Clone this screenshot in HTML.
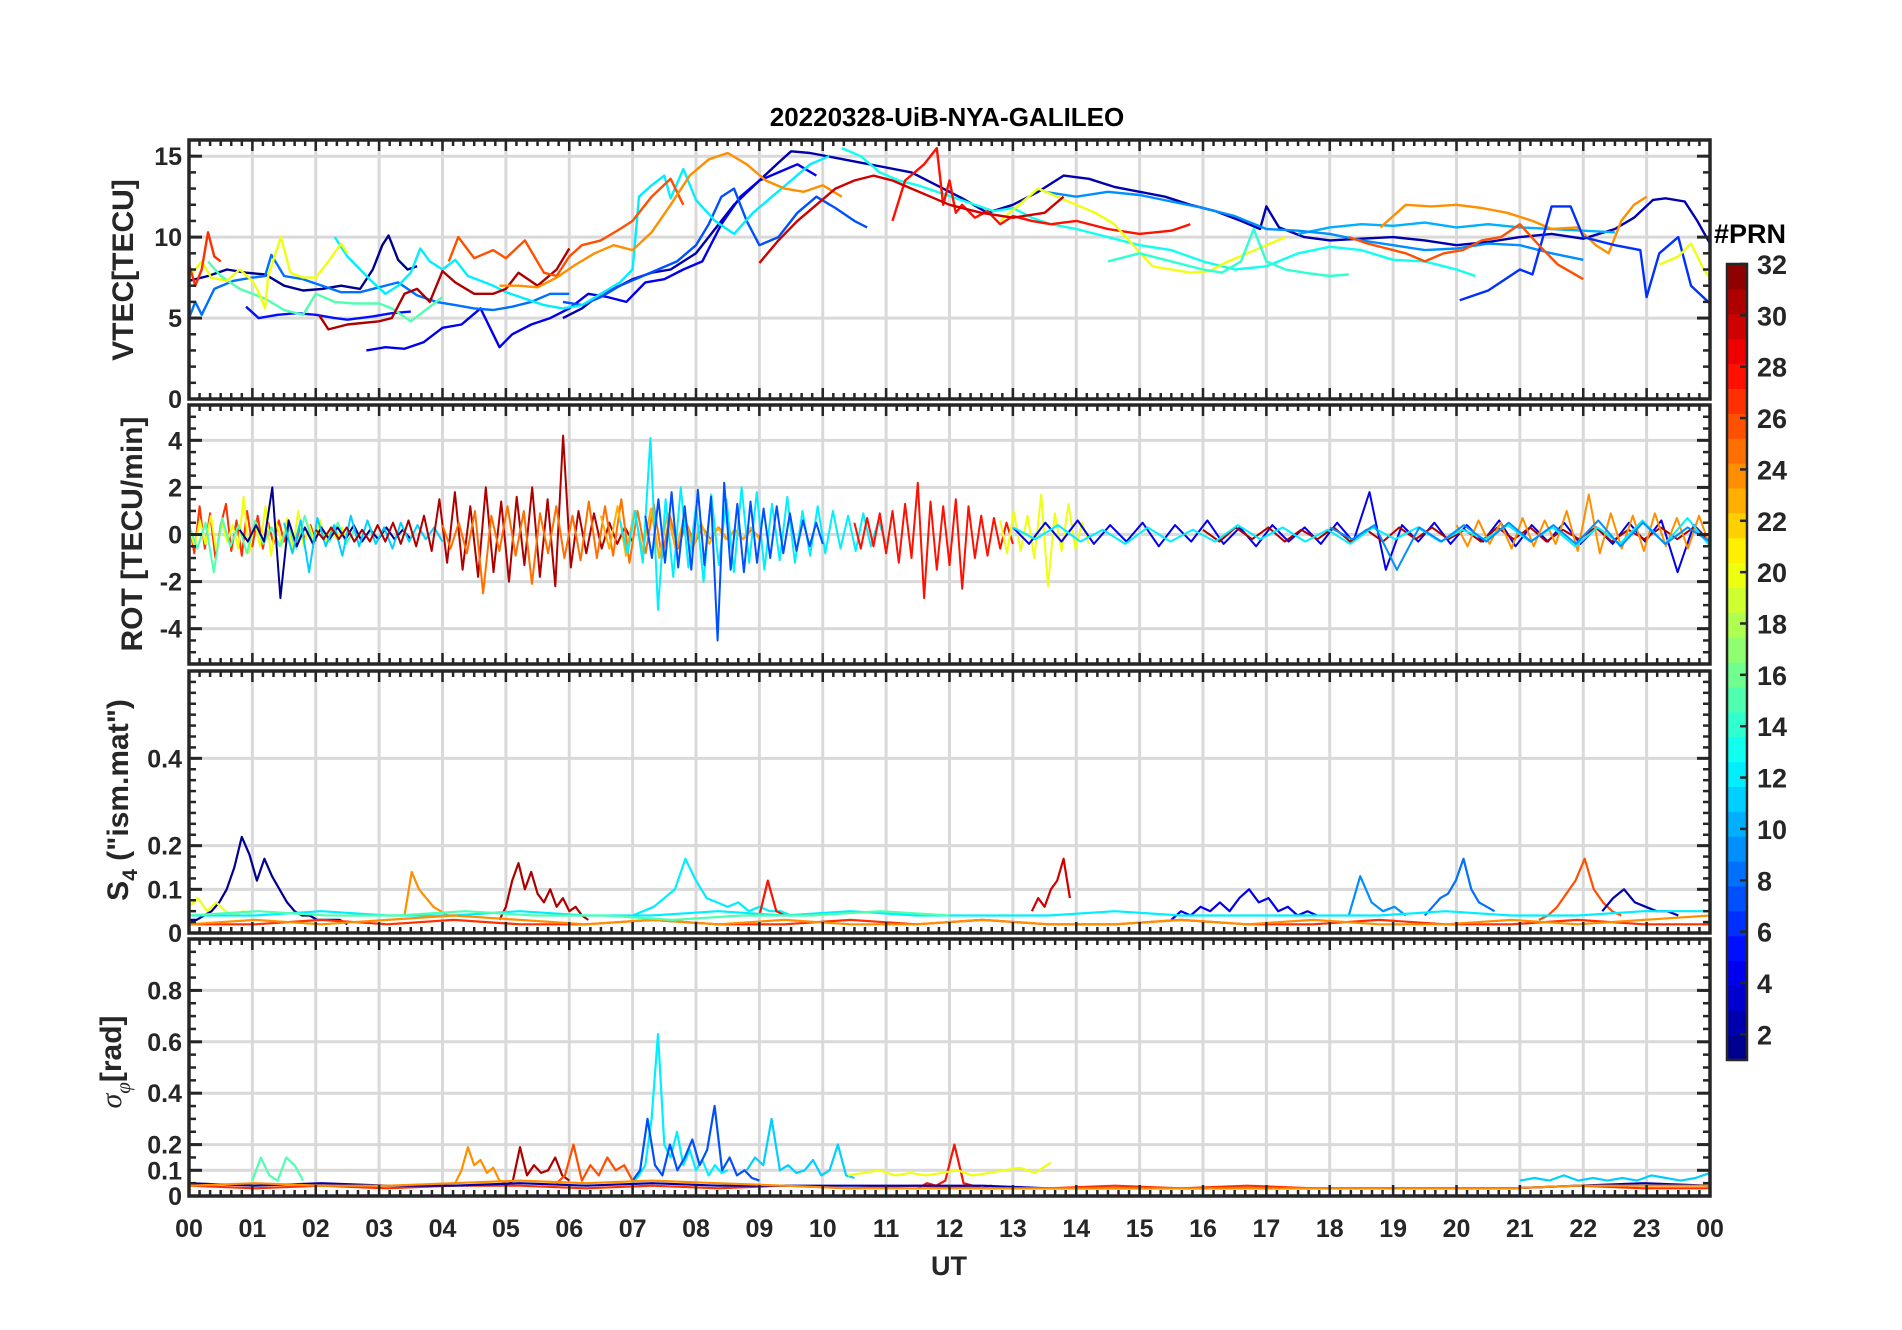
<!DOCTYPE html>
<html><head><meta charset="utf-8">
<style>
html,body{margin:0;padding:0;background:#fff;}
svg{display:block;font-family:"Liberation Sans",Arial,sans-serif;}
</style></head>
<body>
<svg id="fig" width="1902" height="1330" viewBox="0 0 1902 1330" xmlns="http://www.w3.org/2000/svg">
<rect x="0" y="0" width="1902" height="1330" fill="#fff"/>
<text x="947" y="126" font-size="26" font-weight="bold" text-anchor="middle" fill="#000">20220328-UiB-NYA-GALILEO</text>
<g id="grids"></g>
<g id="series"></g>
<g id="frames"></g>
<text x="949" y="1275" font-size="27" font-weight="bold" text-anchor="middle" fill="#262626">UT</text>
<text transform="translate(133,270) rotate(-90)" font-size="30" font-weight="bold" text-anchor="middle" fill="#262626">VTEC[TECU]</text>
<text transform="translate(142,534) rotate(-90)" font-size="30" font-weight="bold" text-anchor="middle" fill="#262626">ROT [TECU/min]</text>
<text transform="translate(128,800) rotate(-90)" font-size="30" font-weight="bold" text-anchor="middle" fill="#262626">S<tspan font-size="21" dy="9">4</tspan><tspan dy="-9"> ("ism.mat")</tspan></text>
<text transform="translate(121,1062) rotate(-90)" font-size="30" font-weight="bold" text-anchor="middle" fill="#262626"><tspan font-style="italic" font-weight="normal" font-family="Liberation Serif,serif">σ</tspan><tspan font-size="21" dy="9" font-style="italic" font-weight="normal" font-family="Liberation Serif,serif">φ</tspan><tspan dy="-9">[rad]</tspan></text>
<g id="colorbar"></g>
<text x="1714" y="243" font-size="27" font-weight="bold" fill="#000">#PRN</text>
</svg>
<script>
// ---------------- DATA ----------------
const hourTicks = ["00","01","02","03","04","05","06","07","08","09","10","11","12","13","14","15","16","17","18","19","20","21","22","23","00"];
const vtecTicks = [0,5,10,15];
const rotTicks = [-4,-2,0,2,4];
const s4Ticks = [0,0.1,0.2,0.4];
const sigTicks = [0,0.1,0.2,0.4,0.6,0.8];
const prnTicks = [2,4,6,8,10,12,14,16,18,20,22,24,26,28,30,32];

const vtecPrn = [1,2,4,5,8,7,12,13,15,20,31,26,24,27,28,10,9,20,24,6,30,26,14,20];
const vtecT = [
 [0,0.3,0.6,0.9,1.2,1.5,1.8,2.1,2.4,2.7,2.9,3.05,3.15,3.3,3.45,3.6],
 [5.9,6.2,6.5,6.8,7.0,7.3,7.6,8.0,8.3,8.6,9.0,9.3,9.5,9.8,10.2,10.6,11.0,11.4,11.8,12.2,12.6,13.0,13.4,13.8,14.2,14.6,15.0,15.4,15.8,16.2,16.6,16.9,17.0,17.2,17.6,18.0,18.5,19.0,19.5,20.0,20.5,21.0,21.5,22.0,22.5,22.8,23.1,23.3,23.6,23.8,24],
 [2.8,3.1,3.4,3.7,4.0,4.3,4.6,4.8,4.9,5.1,5.4,5.7,6.0,6.3,6.6,6.9,7.2,7.5,7.8,8.1,8.4,8.7,9.0,9.3,9.6,9.9],
 [0.9,1.1,1.4,1.7,2.0,2.3,2.5,2.7,2.9,3.2,3.5],
 [0,0.1,0.2,0.4,0.7,1.0,1.2,1.3,1.5,1.8,2.1,2.4,2.7,3.0,3.3,3.6,3.9,4.2,4.5,4.8,5.1,5.4,5.7,6.0],
 [5.9,6.2,6.5,6.8,7.1,7.4,7.7,8.0,8.2,8.4,8.6,8.8,9.0,9.3,9.6,9.9,10.2,10.5,10.7],
 [2.3,2.5,2.7,2.9,3.1,3.3,3.5,3.65,3.8,4.0,4.2,4.4,4.6,4.8,5.0,5.3,5.6,5.9,6.2,6.5,6.8,7.0,7.1,7.3,7.5,7.6,7.8,8.0,8.3,8.6,8.9,9.2,9.5,9.8,10.1],
 [10.3,10.6,10.9,11.2,11.5,11.8,12.1,12.4,12.7,13.0,13.3,13.6,14.0,14.5,15.0,15.5,16.0,16.5,17.0,17.5,18.0,18.5,19.0,19.5,20.0,20.3],
 [0.3,0.5,0.8,1.0,1.2,1.5,1.8,2.0,2.3,2.6,3.0,3.2,3.5,3.7,3.9,4.0],
 [0,0.2,0.35,0.6,0.8,1.0,1.1,1.2,1.25,1.45,1.6,1.8,2.0,2.2,2.4,2.5],
 [2.05,2.2,2.5,3.0,3.2,3.4,3.6,3.8,4.0,4.2,4.5,4.8,5.0,5.2,5.5,5.8,6.0],
 [4.1,4.25,4.5,4.8,5.0,5.3,5.6,5.8,6.0,6.2,6.5,6.8,7.0,7.3,7.6,7.8],
 [4.9,5.2,5.5,5.8,6.1,6.4,6.7,7.0,7.3,7.6,7.9,8.2,8.5,8.8,9.1,9.4,9.7,10.0,10.3],
 [0,0.1,0.2,0.3,0.4,0.5],
 [11.1,11.3,11.6,11.8,11.9,12.0,12.1,12.2,12.4,12.6,12.8,13.0,13.3,13.6,14.0,14.5,15.0,15.5,15.8],
 [17.5,18.0,18.5,19.0,19.5,20.0,20.5,21.0,21.5,22.0,22.5],
 [13.5,14.0,14.5,15.0,15.5,16.0,16.5,17.0,17.5,18.0,18.5,19.0,19.5,20.0,20.5,21.0,21.5,22.0],
 [12.8,13.1,13.4,13.7,14.0,14.3,14.6,14.9,15.2,15.5,15.8,16.1,16.4,16.7,17.0,17.3],
 [18.8,19.2,19.6,20.0,20.4,20.8,21.2,21.5,21.9,22.2,22.4,22.6,22.8,23.0],
 [20.05,20.5,21.0,21.2,21.5,21.8,22.0,22.5,22.9,23.0,23.2,23.5,23.7,24],
 [9.0,9.3,9.6,9.9,10.2,10.5,10.8,11.1,11.4,11.7,12.0,12.5,13.0,13.5,13.8],
 [18.3,18.6,18.9,19.2,19.5,19.8,20.1,20.4,20.7,21.0,21.3,21.6,22.0],
 [14.5,15.0,15.5,16.0,16.3,16.6,16.8,17.0,17.3,17.6,18.0,18.3],
 [23.2,23.5,23.7,23.9,24]
];
const vtecV = [
 [7.3,7.6,8.0,7.8,7.7,7.0,6.7,6.8,7.0,6.8,8.0,9.5,10.1,8.6,8.0,8.2],
 [5.0,5.6,6.5,7.0,7.4,7.8,8.0,9.0,10.5,12.0,13.5,14.6,15.3,15.2,14.9,14.6,14.3,14.0,13.2,12.4,11.5,12.0,12.8,13.8,13.6,13.1,12.8,12.5,12.0,11.6,11.0,10.5,11.9,10.6,10.0,9.8,9.9,10.0,9.8,9.5,9.7,10.0,10.2,9.9,10.5,11.2,12.3,12.4,12.2,11.0,9.6],
 [3.0,3.2,3.1,3.5,4.4,4.6,5.6,4.0,3.2,4.0,4.6,5.0,5.6,6.5,6.3,6.0,7.2,7.4,8.0,8.5,10.8,12.5,13.5,14.0,14.5,13.8],
 [5.7,5.0,5.2,5.3,5.2,5.0,4.9,5.0,5.1,5.3,5.4],
 [5.0,6.0,5.2,6.8,7.3,7.5,7.6,8.9,7.6,7.4,7.0,6.6,6.6,6.9,7.2,6.4,6.0,5.8,5.6,5.5,5.7,6.0,6.5,6.5],
 [6.0,5.8,6.3,7.0,7.5,8.0,8.5,9.5,10.8,12.5,13.0,11.0,9.5,10.0,11.5,12.5,11.8,11.0,10.6],
 [10.0,8.8,8.0,7.2,6.5,7.0,7.8,9.3,8.5,8.0,8.6,7.6,7.3,7.0,6.6,6.2,5.8,5.6,5.8,6.5,7.2,8.0,12.5,13.2,13.8,12.4,14.2,12.3,11.0,10.2,11.5,12.5,13.5,14.5,15.0],
 [15.5,15.0,14.0,13.5,13.2,12.8,12.4,12.0,11.6,11.8,11.2,10.8,10.5,10.0,9.5,9.2,8.5,8.0,8.2,9.0,9.4,9.2,8.6,8.5,8.0,7.6],
 [8.5,7.6,6.8,6.5,6.2,5.5,5.2,6.5,6.0,5.9,5.9,5.6,4.8,5.4,6.0,6.3],
 [7.5,8.5,7.5,7.3,8.0,7.3,6.6,5.6,7.6,10.0,7.8,7.5,7.5,8.5,9.6,9.0],
 [5.2,4.3,4.6,4.8,5.0,6.5,6.8,6.0,7.9,7.2,6.5,6.5,6.8,7.8,7.0,8.0,9.3],
 [8.5,10.0,8.7,9.2,8.7,9.8,7.8,7.6,8.8,9.5,9.8,10.5,11.0,12.5,13.6,12.0],
 [7.0,7.0,6.9,7.5,8.3,9.0,9.5,9.2,10.3,12.0,13.8,14.8,15.2,14.5,13.5,13.0,12.8,13.2,12.5],
 [8.3,7.0,8.0,10.3,8.8,8.5],
 [11.0,13.5,14.5,15.5,12.0,13.5,11.5,12.0,11.2,11.6,10.8,11.3,11.0,10.8,11.0,10.5,10.2,10.4,10.8],
 [10.2,10.6,10.8,10.7,10.9,10.6,10.8,10.6,10.5,10.4,10.3],
 [12.8,12.5,12.8,12.6,12.2,11.8,11.3,10.5,10.4,10.2,9.8,9.5,9.2,9.3,9.6,9.5,9.0,8.6],
 [11.0,12.0,13.0,12.5,12.0,11.5,10.8,9.5,8.2,8.0,7.8,7.9,8.5,9.0,9.5,10.0],
 [10.6,12.0,11.9,12.0,11.8,11.5,11.0,10.5,10.6,9.5,9.0,11.0,12.0,12.5],
 [6.1,6.7,8.0,7.7,11.9,11.9,10.0,9.5,9.2,6.3,9.0,10.0,7.0,5.9],
 [8.4,9.8,11.0,12.0,13.0,13.5,13.8,13.5,13.0,12.5,12.0,11.5,11.2,11.5,12.5],
 [10.0,9.6,9.3,9.0,8.5,9.0,9.2,9.8,10.0,10.8,9.5,8.3,7.4],
 [8.5,9.0,8.5,8.0,7.8,8.5,10.5,8.5,8.0,7.8,7.6,7.7],
 [8.3,8.8,9.6,8.0,7.5]
];

const rotPrn = [27,20,15,1,11,31,25,23,12,7,28,20,4,31,24,12,9];
const rotT0 = [0,0,0,0.8,1.5,2.0,4.0,6.5,6.8,7.2,10.5,12.8,13.0,16.0,20.0,13.0,18.0];
const rotT1 = [2.0,2.5,3.0,3.5,4.0,7.0,9.0,9.0,11.0,10.0,13.0,14.2,24.0,24.0,24.0,24.0,24.0];
const rotV = [
 [0.5,-0.8,1.2,-0.6,0.9,-1.0,0.4,1.3,-0.7,0.6,-0.9,1.0,-0.5,0.8,-0.6,0.5,-0.4,0.6,-0.3,0.4,-0.5,0.3,-0.2,0.4,-0.3],
 [0.3,-0.5,0.6,-0.4,0.8,-0.7,0.5,-0.3,0.4,-0.6,1.6,-0.8,0.6,-0.5,1.2,-0.9,0.5,-0.4,0.7,-0.6,1.0,-0.5,0.4,-0.3,0.6,-0.4,0.3,-0.2,0.3,-0.3],
 [0.4,-0.6,0.5,-1.6,0.7,-0.5,0.4,-0.8,0.6,-0.4,0.3,-0.5,0.4,-0.6,0.8,-0.4,0.3,-0.3,0.5,-0.4,0.2,-0.3,0.2,-0.2],
 [0.2,-0.3,0.4,-0.3,2.0,-2.7,0.6,-0.5,0.3,-0.4,0.3,-0.2,0.3,-0.2,0.4,-0.3,0.2,-0.2,0.3,-0.2,0.2,-0.2],
 [0.5,-0.8,0.6,-1.6,0.7,-0.5,0.4,-0.9,0.8,-0.5,0.6,-0.4,0.3,-0.6,0.5,-0.3,0.4,-0.2,0.3,-0.3],
 [0.2,-0.2,0.3,-0.2,0.3,-0.3,0.2,-0.3,0.4,-0.3,0.5,-0.4,0.6,-0.5,0.8,-0.7,1.5,-1.2,1.8,-1.5,1.2,-1.8,2.0,-1.6,1.4,-2.0,1.6,-1.3,2.0,-1.8,1.5,-2.2,4.2,-1.4,1.0,-0.8,0.9,-0.6,0.5,-0.4,0.3,-0.3],
 [0.4,-0.6,0.5,-0.8,1.0,-2.5,0.8,-0.7,1.2,-0.9,1.0,-2.1,0.9,-0.8,1.2,-1.0,0.8,-1.1,1.4,-1.0,1.2,-0.9,1.5,-1.2,1.0,-0.8,1.3,-1.0,0.8,-0.6,0.5,-0.4,0.3,-0.2,0.3,-0.2,0.2,-0.2,0.2,-0.1],
 [0.8,-0.6,1.2,-0.9,1.0,-0.7,1.1,-1.0,0.9,-0.7,0.8,-0.6,0.5,-0.4,0.3,-0.2,0.2,-0.2,0.3,-0.2],
 [0.6,-0.8,1.0,-1.2,4.1,-3.2,1.5,-1.8,2.0,-1.4,1.2,-2.0,1.7,-1.3,1.5,-1.6,2.0,-1.2,1.8,-1.5,1.3,-1.1,1.6,-1.2,1.0,-0.9,1.2,-0.8,1.0,-0.6,0.8,-0.7,0.9,-0.5,0.6,-0.4],
 [0.8,-1.0,1.5,-1.2,1.8,-1.4,1.2,-1.5,1.9,-1.3,1.6,-4.5,2.2,-1.5,1.3,-1.6,1.4,-1.2,1.1,-1.0,1.2,-0.8,0.9,-0.7,0.6,-0.5,0.5,-0.4],
 [0.5,-0.6,0.7,-0.5,0.9,-0.8,1.0,-1.2,1.3,-1.0,2.2,-2.7,1.4,-1.5,1.2,-1.3,1.5,-2.3,1.2,-1.0,0.8,-0.9,0.7,-0.6,0.5,-0.4],
 [0.6,-0.8,1.0,-0.7,0.8,-1.0,1.7,-2.2,0.9,-0.7,1.3,-0.6,0.5,-0.4],
 [0.3,-0.4,0.5,-0.3,0.6,-0.4,0.4,-0.3,0.5,-0.5,0.4,-0.3,0.6,-0.4,0.3,-0.5,0.4,-0.3,0.3,-0.4,0.5,-0.3,1.8,-1.5,0.4,-0.3,0.5,-0.4,0.4,-0.3,0.6,-0.5,0.4,-0.3,0.5,-0.4,0.3,-0.4,0.5,-0.3,0.6,-1.6,0.4,-0.3],
 [0.2,-0.3,0.3,-0.2,0.3,-0.3,0.2,-0.2,0.3,-0.3,0.2,-0.3,0.3,-0.2,0.3,-0.2,0.2,-0.3,0.3,-0.2,0.3,-0.3,0.2,-0.2,0.3,-0.3,0.2,-0.2,0.3,-0.2,0.3,-0.3],
 [0.4,-0.5,0.6,-0.4,0.5,-0.6,0.7,-0.5,0.6,-0.4,1.0,-0.7,1.7,-0.8,0.9,-0.6,0.8,-0.7,0.9,-0.5,0.7,-0.6,0.8,-0.5],
 [0.3,-0.2,0.4,-0.3,0.2,-0.4,0.3,-0.3,0.2,-0.3,0.4,-0.2,0.3,-0.3,0.2,-0.4,0.3,-0.2,0.3,-0.3,0.2,-0.2,0.4,-0.3,0.3,-0.5,0.3,-0.4,0.6,-0.4,0.7,-0.5],
 [0.3,-0.2,0.4,-1.5,0.3,-0.3,0.4,-0.3,0.5,-0.3,0.4,-0.4,0.6,-0.5,0.5,-0.4,0.3,-0.3]
];

const s4Prn = [1,20,24,31,12,28,30,4,9,8,26,2,27,12,24,15];
const s4T0 = [0,0,3.4,4.9,7.0,9.0,13.3,15.5,18.3,19.5,21.3,22.3,0,0,0,0];
const s4T1 = [2.5,1.0,4.2,6.3,9.5,9.4,13.9,17.8,19.2,20.6,22.6,23.5,24,24,24,12];
const s4V = [
 [0.03,0.03,0.04,0.05,0.07,0.10,0.15,0.22,0.18,0.12,0.17,0.13,0.10,0.07,0.05,0.04,0.04,0.03,0.03,0.03,0.03,0.02],
 [0.06,0.08,0.05,0.07,0.05,0.04,0.05,0.04],
 [0.04,0.14,0.10,0.08,0.06,0.05,0.04,0.04],
 [0.03,0.06,0.12,0.16,0.10,0.14,0.09,0.07,0.10,0.06,0.08,0.05,0.06,0.04,0.03],
 [0.04,0.05,0.06,0.08,0.10,0.17,0.12,0.08,0.07,0.06,0.07,0.05,0.06,0.05,0.05,0.04],
 [0.04,0.12,0.05,0.04],
 [0.05,0.08,0.06,0.10,0.12,0.17,0.08],
 [0.03,0.05,0.04,0.06,0.05,0.07,0.05,0.08,0.10,0.07,0.08,0.05,0.06,0.04,0.05,0.04],
 [0.04,0.13,0.07,0.05,0.06,0.04],
 [0.04,0.06,0.08,0.09,0.12,0.17,0.10,0.07,0.06,0.05],
 [0.03,0.04,0.06,0.09,0.12,0.17,0.10,0.07,0.05,0.04],
 [0.05,0.08,0.10,0.07,0.06,0.05,0.05,0.04],
 [0.02,0.02,0.03,0.02,0.03,0.02,0.02,0.03,0.02,0.02,0.03,0.02,0.03,0.02,0.02,0.03,0.02,0.02,0.03,0.02,0.02,0.03,0.02,0.02],
 [0.04,0.04,0.05,0.04,0.04,0.05,0.04,0.04,0.05,0.04,0.05,0.04,0.04,0.04,0.05,0.04,0.04,0.04,0.04,0.05,0.04,0.04,0.05,0.05],
 [0.02,0.03,0.02,0.03,0.04,0.03,0.02,0.03,0.02,0.03,0.02,0.02,0.03,0.02,0.02,0.03,0.02,0.03,0.02,0.02,0.03,0.02,0.03,0.04],
 [0.04,0.05,0.04,0.04,0.05,0.04,0.04,0.03,0.04,0.04,0.05,0.04]
];

const sigPrn = [12,7,11,28,24,31,26,20,11,15,27,2,24];
const sigT0 = [7.0,7.0,8.8,11.5,4.2,5.0,5.8,10.4,21.0,1.0,0,0,0];
const sigT1 = [8.5,9.0,10.5,12.8,5.0,6.0,7.0,13.6,24.0,1.8,24,24,24];
const sigV = [
 [0.05,0.08,0.12,0.30,0.63,0.20,0.15,0.25,0.12,0.18,0.10,0.14,0.08,0.12,0.09,0.10],
 [0.06,0.10,0.30,0.12,0.08,0.20,0.10,0.15,0.22,0.12,0.18,0.35,0.10,0.15,0.08,0.10,0.07,0.06],
 [0.10,0.15,0.12,0.30,0.10,0.12,0.09,0.10,0.14,0.08,0.10,0.20,0.08,0.07],
 [0.03,0.05,0.04,0.06,0.20,0.05,0.04,0.03,0.04,0.03],
 [0.05,0.10,0.19,0.12,0.14,0.09,0.11,0.06,0.05],
 [0.04,0.06,0.19,0.08,0.12,0.09,0.10,0.15,0.08,0.06],
 [0.05,0.08,0.20,0.06,0.12,0.08,0.15,0.10,0.12,0.06],
 [0.08,0.09,0.10,0.08,0.09,0.08,0.09,0.10,0.08,0.09,0.10,0.11,0.09,0.13],
 [0.06,0.07,0.06,0.08,0.06,0.07,0.06,0.07,0.06,0.08,0.07,0.06,0.07,0.09],
 [0.06,0.15,0.08,0.06,0.15,0.12,0.06],
 [0.04,0.03,0.04,0.03,0.04,0.04,0.03,0.04,0.03,0.04,0.03,0.04,0.03,0.03,0.04,0.03,0.04,0.03,0.03,0.03,0.03,0.04,0.03,0.03],
 [0.05,0.04,0.05,0.04,0.04,0.05,0.04,0.05,0.04,0.04,0.04,0.04,0.04,0.03,0.03,0.03,0.03,0.03,0.03,0.03,0.03,0.04,0.05,0.04],
 [0.04,0.05,0.04,0.04,0.05,0.06,0.05,0.06,0.05,0.04,0.03,0.03,0.03,0.03,0.03,0.03,0.03,0.03,0.03,0.03,0.03,0.04,0.04,0.04]
];

// ---------------- LAYOUT ----------------
const NS = "http://www.w3.org/2000/svg";
const L = 189, R = 1710;
const panels = [
  {name:"vtec", top:140, bot:399, min:0, max:16, ticks:vtecTicks, minor:1},
  {name:"rot", top:405, bot:664, min:-5.5, max:5.5, ticks:rotTicks, minor:0.5},
  {name:"s4", top:671, bot:933, min:0, max:0.6, ticks:s4Ticks, minor:0.025},
  {name:"sigma", top:939, bot:1196, min:0, max:1, ticks:sigTicks, minor:0.05}
];
function xs(t){ return L + t/24*(R-L); }
function ys(p,v){ return p.bot - (v-p.min)/(p.max-p.min)*(p.bot-p.top); }
function jet(prn){
  const v = (prn-0.5)/32;
  const c = x => Math.round(255*Math.max(0,Math.min(1,x)));
  return `rgb(${c(1.5-Math.abs(4*v-3))},${c(1.5-Math.abs(4*v-2))},${c(1.5-Math.abs(4*v-1))})`;
}
function mk(tag, attrs, parent){
  const e = document.createElementNS(NS, tag);
  for (const k in attrs) e.setAttribute(k, attrs[k]);
  parent.appendChild(e); return e;
}
const svg = document.getElementById('fig');
const defs = mk('defs', {}, svg);
const gGrid = document.getElementById('grids');
const gSer = document.getElementById('series');
const gFr = document.getElementById('frames');

panels.forEach((p,i)=>{
  const cp = mk('clipPath', {id:'clip'+i}, defs);
  mk('rect', {x:L, y:p.top, width:R-L, height:p.bot-p.top}, cp);
  for (let h=1; h<24; h++){
    const gl = mk('line', {x1:xs(h), x2:xs(h), y1:p.top, y2:p.bot, stroke:'#d9d9d9', 'stroke-width':3}, gGrid);
    
    
  }
  p.ticks.forEach(v=>{
    if (v===p.min) return;
    const gl = mk('line', {x1:L, x2:R, y1:ys(p,v), y2:ys(p,v), stroke:'#d9d9d9', 'stroke-width':3}, gGrid);
    
    
  });
  const fg = mk('g', {}, gFr);
  
  
  for (let m=0; m<=144; m++){
    const x = xs(m/6), len = (m%6===0)?11:6;
    mk('line', {x1:x, x2:x, y1:p.top, y2:p.top+len, stroke:'#262626', 'stroke-width':2.5}, fg);
    mk('line', {x1:x, x2:x, y1:p.bot, y2:p.bot-len, stroke:'#262626', 'stroke-width':2.5}, fg);
  }
  const nMin = Math.round((p.max-p.min)/p.minor);
  for (let k=0; k<=nMin; k++){
    const v = p.min + k*p.minor, y = ys(p,v);
    mk('line', {x1:L, x2:L+7, y1:y, y2:y, stroke:'#262626', 'stroke-width':2.5}, fg);
    mk('line', {x1:R, x2:R-7, y1:y, y2:y, stroke:'#262626', 'stroke-width':2.5}, fg);
  }
  p.ticks.forEach(v=>{
    const y = ys(p,v);
    mk('line', {x1:L, x2:L+13, y1:y, y2:y, stroke:'#262626', 'stroke-width':3}, fg);
    mk('line', {x1:R, x2:R-13, y1:y, y2:y, stroke:'#262626', 'stroke-width':3}, fg);
    const t = mk('text', {x:L-7, y:y+9, 'font-size':25, 'font-weight':'bold', 'text-anchor':'end', fill:'#262626'}, fg);
    
    
    t.textContent = String(v);
  });
  const fr = mk('rect', {x:L, y:p.top, width:R-L, height:p.bot-p.top, fill:'none', stroke:'#262626', 'stroke-width':3.5}, fg);
  
  
});

hourTicks.forEach((lab,h)=>{
  const t = mk('text', {x:xs(h), y:1237, 'font-size':25, 'font-weight':'bold', 'text-anchor':'middle', fill:'#262626'}, gFr);
  
  
  t.textContent = lab;
});

function drawLine(pi, prn, pts, w, nm){
  const p = panels[pi];
  const d = pts.map((q,j)=>(j?'L':'M')+xs(q[0]).toFixed(1)+','+ys(p,q[1]).toFixed(1)).join('');
  const el = mk('path', {d:d, fill:'none', stroke:jet(prn), 'stroke-width':w, 'stroke-linejoin':'round', 'clip-path':'url(#clip'+pi+')'}, gSer);
  
  
}
vtecPrn.forEach((prn,i)=>{
  drawLine(0, prn, vtecT[i].map((t,j)=>[t, vtecV[i][j]]), 2.4, 'vtec-line-prn'+prn);
});
function uniform(t0,t1,vals){
  const n = vals.length;
  return vals.map((v,j)=>[t0 + (n>1? j*(t1-t0)/(n-1):0), v]);
}
rotPrn.forEach((prn,i)=>{ drawLine(1, prn, uniform(rotT0[i],rotT1[i],rotV[i]), 2, 'rot-line-prn'+prn); });
s4Prn.forEach((prn,i)=>{ drawLine(2, prn, uniform(s4T0[i],s4T1[i],s4V[i]), 2.2, 's4-line-prn'+prn); });
sigPrn.forEach((prn,i)=>{ drawLine(3, prn, uniform(sigT0[i],sigT1[i],sigV[i]), 2.2, 'sigma-line-prn'+prn); });

const cb = document.getElementById('colorbar');
const cbX = 1727, cbW = 20, cbTop = 264, cbBot = 1060;
function cy(v){ return cbBot - (v-1)/31*(cbBot-cbTop); }
for (let k=1; k<=32; k++){
  mk('rect', {x:cbX, y:cy(1+k*31/32), width:cbW, height:(cbBot-cbTop)/32+0.6, fill:jet(k)}, cb);
}
mk('rect', {x:cbX, y:cbTop, width:cbW, height:cbBot-cbTop, fill:'none', stroke:'#262626', 'stroke-width':2.5}, cb);
prnTicks.forEach(v=>{
  const y = cy(v);
  mk('line', {x1:cbX+cbW-7, x2:cbX+cbW, y1:y, y2:y, stroke:'#262626', 'stroke-width':2.5}, cb);
  const t = mk('text', {x:1757, y:y+10, 'font-size':27, 'font-weight':'bold', fill:'#262626'}, cb);
  
  
  t.textContent = String(v);
});
</script>
</body></html>
